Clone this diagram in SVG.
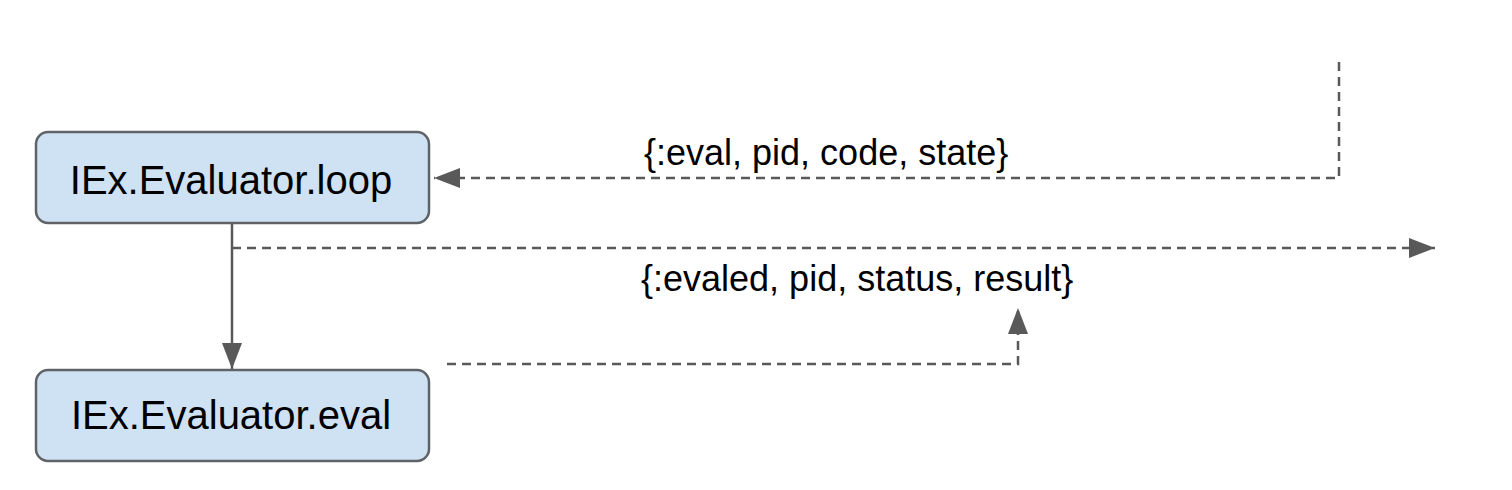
<svg xmlns="http://www.w3.org/2000/svg" width="1512" height="490" viewBox="0 0 1512 490">
<style>
.node{fill:#cfe2f3;stroke:#5f6368;stroke-width:2.5}
.nt{font-family:"Liberation Sans",Arial,sans-serif;font-size:40px;fill:#000;text-anchor:middle}
.lbl{font-family:"Liberation Sans",Arial,sans-serif;font-size:36px;fill:#000}
.c{fill:none;stroke:#595959;stroke-width:2.5}
.d{stroke-dasharray:9,6}
</style>
<defs>
<marker id="ah2" viewBox="0 0 10 10" refX="10" refY="5" markerWidth="26" markerHeight="20" markerUnits="userSpaceOnUse" orient="auto" preserveAspectRatio="none">
<path d="M0,0 L10,5 L0,10 Z" fill="#595959"/>
</marker>
</defs>
<g id="connectors">
<path class="c d" d="M1339,62 V178 H434" marker-end="url(#ah2)"/>
<path class="c d" d="M232,248 H1435" marker-end="url(#ah2)"/>
<path class="c" d="M232,224 V369" marker-end="url(#ah2)"/>
<path class="c d" d="M447,364 H1018 V308" marker-end="url(#ah2)"/>
</g>
<g id="label-eval"><text class="lbl" x="644" y="165">{:eval, pid, code, state}</text></g>
<g id="label-evaled"><text class="lbl" x="641" y="291">{:evaled, pid, status, result}</text></g>
<g id="node-loop">
<rect class="node" x="36" y="132" width="393" height="91" rx="12"/>
<text class="nt" x="231" y="194">IEx.Evaluator.loop</text>
</g>
<g id="node-eval">
<rect class="node" x="36" y="370" width="393" height="91" rx="12"/>
<text class="nt" x="231" y="429">IEx.Evaluator.eval</text>
</g>
</svg>
